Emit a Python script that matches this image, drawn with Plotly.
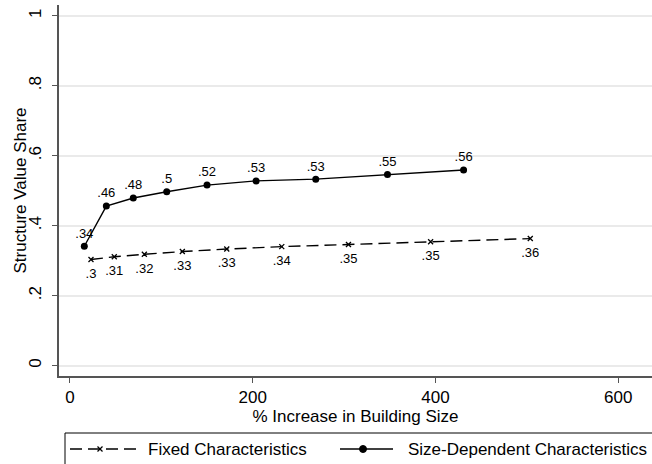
import plotly.graph_objects as go

# % increase in building size (x) and structure value share (y)
fixed_x = [23, 48.5, 81.4, 123, 171.6, 231.8, 304.8, 394.7, 503.8]
fixed_y = [0.303, 0.311, 0.318, 0.326, 0.333, 0.340, 0.346, 0.354, 0.363]

size_x = [15.7, 39.8, 69.3, 105.9, 150, 203.7, 269, 347.5, 430.8]
size_y = [0.341, 0.456, 0.479, 0.497, 0.516, 0.528, 0.533, 0.546, 0.559]

series_names = ["Fixed Characteristics", "Size-Dependent Characteristics"]

x_ticks = [0, 200, 400, 600]
y_ticks = [0, 0.2, 0.4, 0.6, 0.8, 1]
y_tick_text = ["0", ".2", ".4", ".6", ".8", "1"]


def stata_fmt(v):
    s = f"{round(v, 2):.2f}".rstrip("0").rstrip(".")
    return s[1:] if s.startswith("0.") else s


FONT = "Liberation Sans, Arial, sans-serif"
AXIS_COLOR = "#555555"
DASH = "12px,6px"

W, H = 652, 464
M_L, M_R, M_T, M_B = 59, 0, 5, 88
PW, PH = W - M_L - M_R, H - M_T - M_B


def px_x(p):
    """pixel column -> paper x"""
    return (p - M_L) / PW


def px_y(p):
    """pixel row -> paper y"""
    return (H - M_B - p) / PH


fig = go.Figure()

fig.add_trace(go.Scatter(
    x=fixed_x, y=fixed_y,
    mode="lines+markers",
    name=series_names[0],
    line=dict(color="black", width=1.4, dash=DASH),
    marker=dict(symbol="x-thin", size=5, color="black",
                line=dict(color="black", width=1.3)),
    hoverinfo="x+y",
))
# value labels under the fixed series (invisible spacer markers set the gap)
fig.add_trace(go.Scatter(
    x=fixed_x, y=fixed_y,
    mode="markers+text",
    name=series_names[0],
    marker=dict(size=12, opacity=0),
    text=[stata_fmt(v) for v in fixed_y],
    textposition="bottom center",
    textfont=dict(family=FONT, size=13, color="black"),
    cliponaxis=False,
    hoverinfo="skip",
))

fig.add_trace(go.Scatter(
    x=size_x, y=size_y,
    mode="lines+markers+text",
    name=series_names[1],
    line=dict(color="black", width=1.4),
    marker=dict(symbol="circle", size=7, color="black"),
    text=[stata_fmt(v) for v in size_y],
    textposition="top center",
    textfont=dict(family=FONT, size=13, color="black"),
    cliponaxis=False,
))

# Legend box below the plot, drawn in paper coordinates
shapes = []
annotations = []
leg_row = 449
shapes.append(dict(type="rect", xref="paper", yref="paper",
                   x0=px_x(65), x1=px_x(700), y0=px_y(433), y1=px_y(500),
                   line=dict(color="black", width=1), fillcolor="white",
                   layer="below"))

# Fixed characteristics key: dashed line with an x marker
shapes.append(dict(type="line", xref="paper", yref="paper",
                   x0=px_x(70), x1=px_x(136), y0=px_y(leg_row), y1=px_y(leg_row),
                   line=dict(color="black", width=1.4, dash=DASH)))
mx, r = 100, 2.5
shapes.append(dict(type="line", xref="paper", yref="paper",
                   x0=px_x(mx - r), x1=px_x(mx + r),
                   y0=px_y(leg_row - r), y1=px_y(leg_row + r),
                   line=dict(color="black", width=1.3)))
shapes.append(dict(type="line", xref="paper", yref="paper",
                   x0=px_x(mx - r), x1=px_x(mx + r),
                   y0=px_y(leg_row + r), y1=px_y(leg_row - r),
                   line=dict(color="black", width=1.3)))
annotations.append(dict(xref="paper", yref="paper", x=px_x(146), y=px_y(leg_row),
                        xanchor="left", yanchor="middle", showarrow=False,
                        text=series_names[0],
                        font=dict(family=FONT, size=17, color="black")))

# Size-dependent characteristics key: solid line with a filled dot
shapes.append(dict(type="line", xref="paper", yref="paper",
                   x0=px_x(340), x1=px_x(393), y0=px_y(leg_row), y1=px_y(leg_row),
                   line=dict(color="black", width=1.4)))
cx, cr = 363, 3.5
shapes.append(dict(type="circle", xref="paper", yref="paper",
                   x0=px_x(cx - cr), x1=px_x(cx + cr),
                   y0=px_y(leg_row + cr), y1=px_y(leg_row - cr),
                   line=dict(color="black", width=1), fillcolor="black"))
annotations.append(dict(xref="paper", yref="paper", x=px_x(406), y=px_y(leg_row),
                        xanchor="left", yanchor="middle", showarrow=False,
                        text=series_names[1],
                        font=dict(family=FONT, size=17, color="black")))

# Y axis title, placed left of the rotated tick labels
annotations.append(dict(xref="paper", yref="paper", x=px_x(20), y=0.5,
                        xanchor="center", yanchor="middle", showarrow=False,
                        textangle=-90, text="Structure Value Share",
                        font=dict(family=FONT, size=17, color="black")))

fig.update_layout(
    width=W, height=H,
    margin=dict(l=M_L, r=M_R, t=M_T, b=M_B),
    paper_bgcolor="white", plot_bgcolor="white",
    font=dict(family=FONT, size=17, color="black"),
    showlegend=False,
    shapes=shapes,
    annotations=annotations,
    xaxis=dict(
        range=[-12, 637],
        tickvals=x_ticks,
        ticks="outside", ticklen=5, tickcolor=AXIS_COLOR, tickwidth=1,
        showline=True, linecolor=AXIS_COLOR, linewidth=1.5,
        showgrid=False, zeroline=False, automargin=False,
        tickfont=dict(family=FONT, size=17, color="black"),
        title=dict(text="% Increase in Building Size", standoff=0,
                   font=dict(family=FONT, size=17, color="black")),
    ),
    yaxis=dict(
        range=[-0.03, 1.031],
        tickvals=y_ticks, ticktext=y_tick_text, tickangle=-90,
        ticks="outside", ticklen=5, tickcolor=AXIS_COLOR, tickwidth=1,
        ticklabelstandoff=4,
        showline=True, linecolor=AXIS_COLOR, linewidth=1.5,
        showgrid=True, gridcolor="#eaeaea", gridwidth=1.5,
        zeroline=False, automargin=False,
        tickfont=dict(family=FONT, size=17, color="black"),
    ),
)

fig.write_html("out.html")
